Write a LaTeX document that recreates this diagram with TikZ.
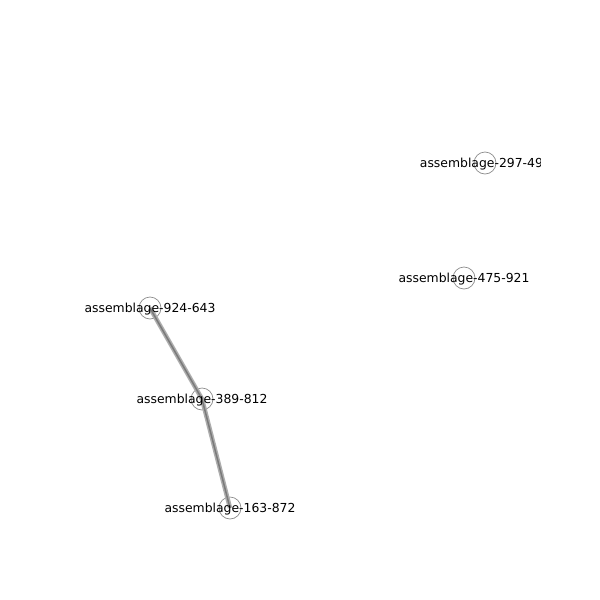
\documentclass[tikz,border=0pt]{standalone}
\usepackage{fontspec}
\setmainfont{DejaVu Sans}
\begin{document}
\begin{tikzpicture}[x=1pt,y=-1pt,
  vert/.style={circle,draw=black!45,line width=0.7pt,minimum size=22pt,inner sep=0pt},
  lbl/.style={font=\fontsize{12.4}{14}\selectfont,inner sep=0pt,text=black,yshift=-1pt},
  edgeouter/.style={draw=black!32,line width=4.5pt},
  edgeinner/.style={draw=black!52,line width=1.5pt}]
\useasboundingbox[fill=white] (0,0) rectangle (600,600);
\begin{scope}
\clip (0,0) rectangle (540,600);
\node[vert] (a) at (485,163) {};
\node[vert] (b) at (464,278) {};
\node[vert] (c) at (150,308) {};
\node[vert] (d) at (202,399) {};
\node[vert] (e) at (230,508) {};
\draw[edgeouter] (c.center) -- (d.center) -- (e.center);
\draw[edgeinner] (c.center) -- (d.center) -- (e.center);
\node[lbl,anchor=west,xshift=-65.3pt] (la) at (a.center) {assemblage-297-49};
\node[lbl] (lb) at (b.center) {assemblage-475-921};
\node[lbl] (lc) at (c.center) {assemblage-924-643};
\node[lbl] (ld) at (d.center) {assemblage-389-812};
\node[lbl] (le) at (e.center) {assemblage-163-872};
\end{scope}
\end{tikzpicture}
\end{document}
